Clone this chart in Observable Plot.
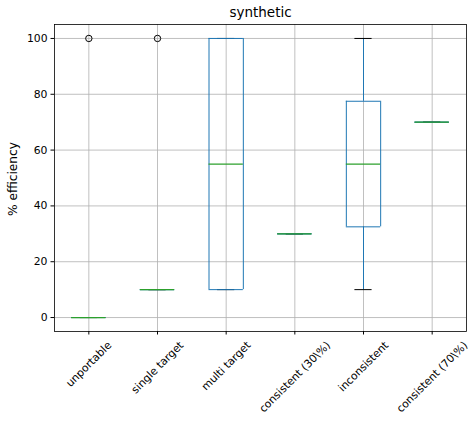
<!DOCTYPE html>
<html>
<head>
<meta charset="utf-8">
<script src="https://cdn.jsdelivr.net/npm/d3@7"></script>
<script src="https://cdn.jsdelivr.net/npm/@observablehq/plot@0.6"></script>
<style>
  html, body { margin: 0; padding: 0; background: white; }
  svg, svg text { font-family: "DejaVu Sans", sans-serif !important; }
</style>
</head>
<body>
<script>
const title = "synthetic";
const yLabel = "% efficiency";
const categories = ["unportable", "single target", "multi target", "consistent (30\\%)", "inconsistent", "consistent (70\\%)"];
const q1 = [0, 10, 10, 30, 32.5, 70];
const median = [0, 10, 55, 30, 55, 70];
const q3 = [0, 10, 100, 30, 77.5, 70];
const whiskerLow = [0, 10, 10, 30, 10, 70];
const whiskerHigh = [0, 10, 100, 30, 100, 70];
const outlierCategory = ["unportable", "single target"];
const outlierValue = [100, 100];
const yTicks = [0, 20, 40, 60, 80, 100];

const boxes = categories.map((c, i) => ({
  pos: i + 1, q1: q1[i], median: median[i], q3: q3[i], lo: whiskerLow[i], hi: whiskerHigh[i]
}));
const fliers = outlierCategory.map((c, i) => ({pos: categories.indexOf(c) + 1, value: outlierValue[i]}));

const blue = "#1f77b4", green = "#2ca02c";
const hw = 0.25, cw = 0.125;
const fs = 10.8;

const chart = Plot.plot({
  width: 469,
  height: 422,
  marginTop: 24,
  marginLeft: 54,
  marginRight: 3,
  marginBottom: 91,
  style: {fontFamily: "'DejaVu Sans', sans-serif", fontSize: fs + "px", background: "white", color: "black"},
  x: {domain: [0.5, 6.5]},
  y: {domain: [-5, 105]},
  marks: [
    Plot.gridY(yTicks, {stroke: "#b0b0b0", strokeOpacity: 1, strokeWidth: 0.8}),
    Plot.gridX(categories.map((c, i) => i + 1), {stroke: "#b0b0b0", strokeOpacity: 1, strokeWidth: 0.8}),
    // whiskers
    Plot.ruleX(boxes, {x: "pos", y1: "q3", y2: "hi", stroke: blue, strokeWidth: 1}),
    Plot.ruleX(boxes, {x: "pos", y1: "lo", y2: "q1", stroke: blue, strokeWidth: 1}),
    // caps
    Plot.ruleY(boxes, {x1: d => d.pos - cw, x2: d => d.pos + cw, y: "hi", stroke: "black", strokeWidth: 1}),
    Plot.ruleY(boxes, {x1: d => d.pos - cw, x2: d => d.pos + cw, y: "lo", stroke: "black", strokeWidth: 1}),
    // boxes
    Plot.ruleY(boxes, {x1: d => d.pos - hw, x2: d => d.pos + hw, y: "q1", stroke: blue, strokeWidth: 1}),
    Plot.ruleY(boxes, {x1: d => d.pos - hw, x2: d => d.pos + hw, y: "q3", stroke: blue, strokeWidth: 1}),
    Plot.ruleX(boxes, {x: d => d.pos - hw, y1: "q1", y2: "q3", stroke: blue, strokeWidth: 1}),
    Plot.ruleX(boxes, {x: d => d.pos + hw, y1: "q1", y2: "q3", stroke: blue, strokeWidth: 1}),
    // medians
    Plot.ruleY(boxes, {x1: d => d.pos - hw, x2: d => d.pos + hw, y: "median", stroke: green, strokeWidth: 1.2}),
    // fliers
    Plot.dot(fliers, {x: "pos", y: "value", r: 3.2, stroke: "black", fill: "none", strokeWidth: 1}),
    Plot.frame({stroke: "black", strokeWidth: 0.8}),
    Plot.axisY({ticks: yTicks, tickSize: 3.5, tickPadding: 3.5, fontSize: fs, label: null}),
    Plot.axisX({ticks: categories.map((c, i) => i + 1), tickFormat: v => categories[v - 1], tickSize: 3.5, tickPadding: 4,
      tickRotate: -45, textAnchor: "middle", lineAnchor: "middle", fontSize: fs, label: null}),
    Plot.text([title], {frameAnchor: "top", dy: -11.6, fontSize: 13.5, textAnchor: "middle", lineAnchor: "middle"}),
    Plot.text([yLabel], {frameAnchor: "left", dx: -41, dy: 1, rotate: -90, fontSize: 12.2, textAnchor: "middle", lineAnchor: "middle"})
  ]
});
document.body.append(chart);

// center the rotated tick labels under their ticks (matplotlib-style)
chart.querySelectorAll('g[aria-label="x-axis tick label"] text').forEach(t => {
  const L = t.getComputedTextLength();
  const h = fs * 1.16;
  const shift = (L + h) * Math.SQRT1_2 / 2;
  const tr = t.getAttribute("transform") || "";
  const m = /translate\(\s*([-\d.e]+)[,\s]+([-\d.e]+)\s*\)/.exec(tr);
  if (m) {
    const nx = +m[1], ny = +m[2] + shift;
    t.setAttribute("transform", tr.replace(m[0], `translate(${nx},${ny})`));
  } else {
    t.setAttribute("transform", `translate(0,${shift}) ` + tr);
  }
});
</script>
</body>
</html>
